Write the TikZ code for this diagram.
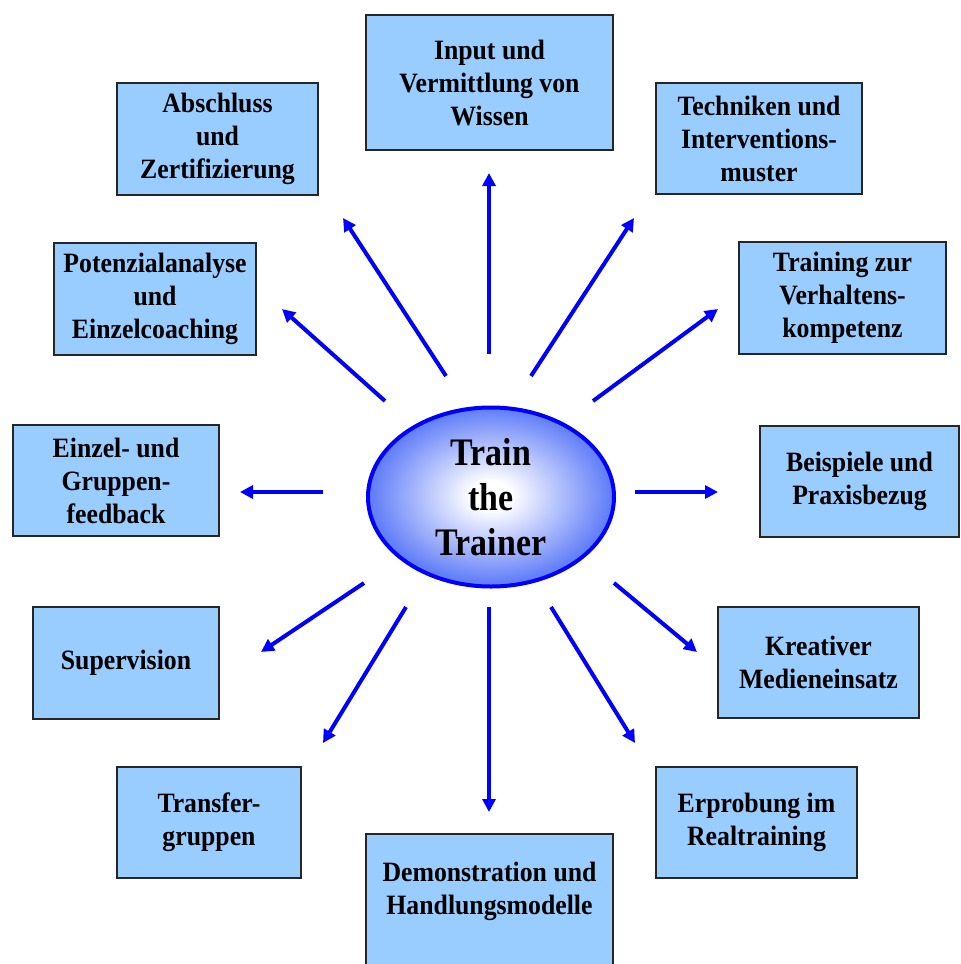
\documentclass[tikz,border=0pt]{standalone}
\usepackage{fontspec}
\setmainfont{Liberation Serif}[FakeStretch=0.92]
\newfontfamily\centerfont{Liberation Serif}[FakeStretch=0.87]
\usetikzlibrary{arrows.meta,shapes.geometric}
\definecolor{boxfill}{RGB}{153,204,255}
\definecolor{arrowblue}{RGB}{0,0,255}
\definecolor{eggedge}{RGB}{40,75,240}
\definecolor{eggmid}{RGB}{100,128,248}
\pgfdeclareradialshading{eggshade}{\pgfpoint{0bp}{0bp}}{color(0bp)=(white); color(4bp)=(white); color(24bp)=(eggmid); color(46bp)=(eggedge); color(60bp)=(eggedge)}
\tikzset{
  boxnode/.style={draw=black!85, line width=1.8pt, fill=boxfill, align=center,
    font=\fontsize{28}{33}\selectfont\bfseries, inner sep=0pt},
  textonly/.style={align=center, font=\fontsize{28}{33}\selectfont\bfseries, inner sep=0pt},
  ray/.style={draw=arrowblue, line width=4pt, -{Triangle[length=13pt,width=13pt]}}
}
\begin{document}
\begin{tikzpicture}[x=1pt,y=-1pt]
\useasboundingbox (0,0) rectangle (961,964);
\clip (0,0) rectangle (961,964);
\fill[white] (0,0) rectangle (961,964);

% boxes
\node[boxnode, minimum width=247pt, minimum height=135pt] (inp) at (489.5,82.5) {Input und\\Vermittlung von\\Wissen};
\node[boxnode, minimum width=206pt, minimum height=111pt] (tech) at (759,138.5) {Techniken und\\Interventions-\\muster};
\node[boxnode, minimum width=207pt, minimum height=112pt] (train) at (842.5,298) {Training zur\\Verhaltens-\\kompetenz};
\node[boxnode, minimum width=199pt, minimum height=111pt] (beisp) at (859.5,481.5) {Beispiele und\\Praxisbezug};
\node[boxnode, minimum width=201pt, minimum height=111pt] (kreat) at (818.5,662.5) {Kreativer\\Medieneinsatz};
\node[boxnode, minimum width=201pt, minimum height=111pt] (erprob) at (756.5,822.5) {Erprobung im\\Realtraining};
\path[draw=black!85, line width=1.8pt, fill=boxfill] (366,834) rectangle (613,1010);
\node[textonly] (demo) at (489.5,891) {Demonstration und\\Handlungsmodelle};
\node[boxnode, minimum width=184pt, minimum height=111pt] (transfer) at (209,822.5) {Transfer-\\gruppen};
\node[boxnode, minimum width=186pt, minimum height=112pt] (superv) at (126,663) {Supervision};
\node[boxnode, minimum width=206pt, minimum height=111pt] (einzel) at (116,480.5) {Einzel- und\\Gruppen-\\feedback};
\node[boxnode, minimum width=202pt, minimum height=112pt] (potenz) at (155,299) {Potenzialanalyse\\und\\Einzelcoaching};
\node[boxnode, minimum width=201pt, minimum height=112pt] (abschl) at (217.5,139) {Abschluss\\und\\Zertifizierung};

% centre
\path[shading=eggshade] (491,495.5) ellipse [x radius=123pt, y radius=89.5pt];
\node[ellipse, draw=arrowblue, line width=4pt, minimum width=246pt, minimum height=179pt,
  align=center, inner sep=0pt, font=\centerfont\fontsize{39}{45}\selectfont\bfseries] (ctr) at (491,497) {Train\\the\\Trainer};

% coordinates
\coordinate (s1) at (489,354);  \coordinate (e1) at (489,173);
\coordinate (s2) at (531,376);  \coordinate (e2) at (634,218);
\coordinate (s3) at (593,401);  \coordinate (e3) at (718,309);
\coordinate (s4) at (635,492);  \coordinate (e4) at (718,492);
\coordinate (s5) at (614,583);  \coordinate (e5) at (697,652);
\coordinate (s6) at (551,607);  \coordinate (e6) at (635,743);
\coordinate (s7) at (489,607);  \coordinate (e7) at (489,812);
\coordinate (s8) at (406,607);  \coordinate (e8) at (323,743);
\coordinate (s9) at (364,583);  \coordinate (e9) at (261,652);
\coordinate (s10) at (323,492); \coordinate (e10) at (240,492);
\coordinate (s11) at (385,401); \coordinate (e11) at (282,309);
\coordinate (s12) at (446,376); \coordinate (e12) at (343,218);

\foreach \i in {1,...,12} { \draw[ray] (s\i) -- (e\i); }
\end{tikzpicture}
\end{document}
